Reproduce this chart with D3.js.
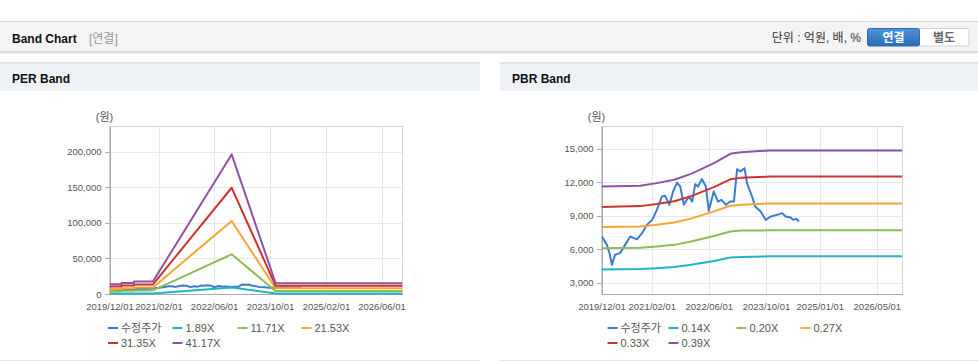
<!DOCTYPE html>
<meta charset="utf-8">
<style>
body { margin: 0; background: #fff; font-family: "Liberation Sans", Arial, "Noto Sans CJK KR", sans-serif; }
.axis text { fill: #555; font-size: 9.5px; }
.axis path, .axis line { stroke: #aaa; shape-rendering: crispEdges; }
.grid line { stroke: #e8e8e8; shape-rendering: crispEdges; }
.band { fill: none; stroke-width: 2; stroke-linejoin: round; }
.legend text { fill: #555; font-size: 11px; }
</style>
<script src="https://d3js.org/d3.v7.min.js"></script>
<body>
<div id="chart"></div>
<script>
// ---- data ----
// adjusted close (수정주가), shared by both charts
var priceDates = ["2019-12-04","2020-01-16","2020-02-07","2020-02-28","2020-03-25","2020-05-07","2020-06-19",
  "2020-08-01","2020-09-01","2020-09-28","2020-11-10","2020-12-22","2021-02-04","2021-03-16","2021-04-28",
  "2021-05-25","2021-07-01","2021-08-01","2021-09-04","2021-10-01","2021-11-01","2021-12-13","2022-01-10",
  "2022-02-06","2022-03-01","2022-04-04","2022-05-07","2022-06-01","2022-07-13","2022-08-19","2022-09-16",
  "2022-10-25","2022-12-01","2023-01-01","2023-01-28","2023-02-26","2023-04-01","2023-04-22","2023-06-04",
  "2023-07-01","2023-08-16","2023-09-28","2023-11-10","2024-01-04","2024-02-16","2024-03-16","2024-04-28",
  "2024-05-19","2024-06-16","2024-07-07"];
var priceValues = [7150,6400,5660,4610,5510,5660,6400,
  7150,7000,6900,7450,8200,8640,9540,10730,
  10790,9990,11180,11980,11620,9990,10730,10280,
  11840,11620,12290,11620,9450,11180,10280,10430,
  9990,10280,10280,13180,12970,13270,11930,10730,
  9830,9390,8640,8940,9090,9240,8940,8850,
  8640,8730,8490];

// PER band
var perDates = ["2019-12-01","2020-03-15","2020-03-15","2020-07-01","2020-07-01","2020-12-15","2022-11-01","2023-11-20","2026-12-01"];
var perLabels = ["수정주가", "1.89X", "11.71X", "21.53X", "31.35X", "41.17X"];
var per189  = [630, 630, 710, 710, 810, 810, 9000, 690, 690];
var per1171 = [3900, 3900, 4400, 4400, 5040, 5040, 55700, 4300, 4300];
var per2153 = [7170, 7170, 8100, 8100, 9260, 9260, 102500, 7900, 7900];
var per3135 = [10440, 10440, 11790, 11790, 13480, 13480, 149200, 11500, 11500];
var per4117 = [13700, 13700, 15500, 15500, 17700, 17700, 196000, 15100, 15100];
var perTicksX = ["2019-12-01","2021-02-01","2022-06-01","2023-10-01","2025-02-01","2026-06-01"];
var perTicksY = [0, 50000, 100000, 150000, 200000];

// PBR band
var pbrDates = ["2019-12-01","2020-10-25","2021-03-15","2021-08-10","2022-01-01","2022-07-15","2022-12-01","2023-03-01","2023-11-01","2026-12-01"];
var pbrLabels = ["수정주가", "0.14X", "0.20X", "0.27X", "0.33X", "0.39X"];
var pbr014 = [4200, 4230, 4310, 4420, 4610, 4960, 5260, 5310, 5380, 5380];
var pbr020 = [6100, 6150, 6250, 6400, 6700, 7200, 7600, 7680, 7700, 7700];
var pbr027 = [8000, 8050, 8200, 8400, 8750, 9400, 9900, 10000, 10100, 10100];
var pbr033 = [9800, 9870, 10060, 10310, 10760, 11570, 12270, 12400, 12520, 12520];
var pbr039 = [11620, 11700, 11930, 12230, 12760, 13720, 14550, 14700, 14850, 14850];
var pbrTicksX = ["2019-12-01","2021-02-01","2022-06-01","2023-10-01","2025-01-01","2026-05-01"];
var pbrTicksY = [3000, 6000, 9000, 12000, 15000];

var colors = ["#3a7dd0", "#22b4c6", "#8cbd50", "#f6a632", "#cf3330", "#8f52a5"];

var parse = d3.timeParse("%Y-%m-%d");
var W = 978, H = 362;

var svg = d3.select("#chart").append("svg")
    .attr("width", W)
    .attr("height", H);

var defs = svg.append("defs");
var sh = defs.append("linearGradient").attr("id", "shadow").attr("x1", 0).attr("x2", 0).attr("y1", 0).attr("y2", 1);
sh.append("stop").attr("offset", "0%").attr("stop-color", "#c8c8c8");
sh.append("stop").attr("offset", "100%").attr("stop-color", "#fff").attr("stop-opacity", 0);
var btn = defs.append("linearGradient").attr("id", "btn").attr("x1", 0).attr("x2", 0).attr("y1", 0).attr("y2", 1);
btn.append("stop").attr("offset", "0%").attr("stop-color", "#4f93d8");
btn.append("stop").attr("offset", "100%").attr("stop-color", "#2b6cb4");

// top header bar
svg.append("rect").attr("x", 0).attr("y", 21).attr("width", W).attr("height", 1.5).attr("fill", "#dcdcdc");
svg.append("rect").attr("x", 0).attr("y", 22.5).attr("width", W).attr("height", 29).attr("fill", "#f4f4f4");
svg.append("rect").attr("x", 0).attr("y", 51.5).attr("width", W).attr("height", 4).attr("fill", "url(#shadow)");
svg.append("text").attr("x", 12).attr("y", 43).style("font-size", "12px").style("font-weight", "bold")
    .attr("fill", "#111").text("Band Chart");
svg.append("text").attr("x", 89).attr("y", 43).style("font-size", "12px").attr("fill", "#999").text("[연결]");
svg.append("text").attr("x", 861).attr("y", 42).style("font-size", "12px").attr("fill", "#333")
    .attr("text-anchor", "end").text("단위 : 억원, 배, %");
svg.append("rect").attr("x", 918.5).attr("y", 28.5).attr("width", 50.5).attr("height", 17.5).attr("rx", 2)
    .attr("fill", "#fff").attr("stroke", "#cfcfcf");
svg.append("rect").attr("x", 867.5).attr("y", 28.5).attr("width", 52).attr("height", 17.5).attr("rx", 2)
    .attr("fill", "url(#btn)").attr("stroke", "#2b6cb4");
svg.append("text").attr("x", 893.5).attr("y", 41.5).attr("text-anchor", "middle").style("font-size", "12px")
    .style("font-weight", "bold").attr("fill", "#fff").text("연결");
svg.append("text").attr("x", 944).attr("y", 41.5).attr("text-anchor", "middle").style("font-size", "12px")
    .style("font-weight", "bold").attr("fill", "#666").text("별도");

function panel(px, pw, title) {
  svg.append("rect").attr("x", px).attr("y", 62).attr("width", pw).attr("height", 2).attr("fill", "#e1e5ea");
  svg.append("rect").attr("x", px).attr("y", 64).attr("width", pw).attr("height", 27).attr("fill", "#eef1f6");
  svg.append("rect").attr("x", px).attr("y", 360).attr("width", pw).attr("height", 1).attr("fill", "#e6e6e6");
  svg.append("text").attr("x", px + 12).attr("y", 83).style("font-size", "12px").style("font-weight", "bold")
      .attr("fill", "#111").text(title);
}

function bandChart(opt) {
  var x = d3.scaleTime()
      .domain([parse("2019-12-01"), parse("2026-12-01")])
      .range([opt.left, opt.right]);
  var y = d3.scaleLinear()
      .domain(opt.yDomain)
      .range([294, 126.5]);
  var g = svg.append("g");

  // grid
  var grid = g.append("g").attr("class", "grid");
  grid.selectAll(".gx").data(opt.ticksX.map(parse)).enter().append("line")
      .attr("x1", function(d) { return Math.round(x(d)) + 0.5; })
      .attr("x2", function(d) { return Math.round(x(d)) + 0.5; })
      .attr("y1", 126.5).attr("y2", 294);
  grid.selectAll(".gy").data(opt.ticksY).enter().append("line")
      .attr("x1", opt.left).attr("x2", opt.right)
      .attr("y1", function(d) { return Math.round(y(d)) + 0.5; })
      .attr("y2", function(d) { return Math.round(y(d)) + 0.5; });
  g.append("rect").attr("x", opt.left).attr("y", 126.5).attr("width", opt.right - opt.left).attr("height", 294 - 126.5)
      .attr("fill", "none").attr("stroke", "#d4d4d4").style("shape-rendering", "crispEdges");

  // axes
  g.append("g").attr("class", "axis")
      .attr("transform", "translate(0,294)")
      .call(d3.axisBottom(x).tickValues(opt.ticksX.map(parse)).tickFormat(d3.timeFormat("%Y/%m/%d")).tickSize(0).tickPadding(9));
  g.append("g").attr("class", "axis")
      .attr("transform", "translate(" + opt.left + ",0)")
      .call(d3.axisLeft(y).tickValues(opt.ticksY).tickFormat(d3.format(",")).tickSize(5).tickSizeOuter(0).tickPadding(3));
  g.append("text").attr("x", opt.left - 5).attr("y", 121).attr("text-anchor", "middle")
      .style("font-size", "11px").attr("fill", "#555").text("(원)");

  var line = d3.line()
      .x(function(d) { return x(d[0]); })
      .y(function(d) { return y(d[1]); });

  var clip = "clip" + opt.left;
  defs.append("clipPath").attr("id", clip).append("rect")
      .attr("x", opt.left).attr("y", 126).attr("width", opt.right - opt.left).attr("height", 169);

  var lines = g.append("g").attr("clip-path", "url(#" + clip + ")");
  // price first, then bands
  lines.append("path").attr("class", "band")
      .datum(d3.zip(priceDates.map(parse), priceValues))
      .attr("stroke", colors[0])
      .attr("d", line);
  opt.bands.forEach(function(vals, i) {
    lines.append("path").attr("class", "band")
        .datum(d3.zip(opt.dates.map(parse), vals))
        .attr("stroke", colors[i + 1])
        .attr("d", line);
  });

  // legend
  var leg = g.append("g").attr("class", "legend");
  opt.labels.forEach(function(lab, i) {
    var lx = opt.legendX[i % 4], ly = i < 4 ? 328 : 343;
    leg.append("rect").attr("x", lx).attr("y", ly - 1).attr("width", 10).attr("height", 2).attr("fill", colors[i]);
    leg.append("text").attr("x", lx + 13).attr("y", ly).attr("dy", "0.35em").text(lab);
  });
}

panel(0, 480, "PER Band");
panel(500, 478, "PBR Band");

bandChart({
  left: 109.5, right: 402.5, yDomain: [0, 235200],
  ticksX: perTicksX, ticksY: perTicksY,
  dates: perDates, bands: [per189, per1171, per2153, per3135, per4117],
  labels: perLabels, legendX: [108, 172.5, 237.5, 301.5]
});

bandChart({
  left: 601.5, right: 902, yDomain: [2000, 17000],
  ticksX: pbrTicksX, ticksY: pbrTicksY,
  dates: pbrDates, bands: [pbr014, pbr020, pbr027, pbr033, pbr039],
  labels: pbrLabels, legendX: [607.5, 668.5, 736.5, 800.5]
});
</script>
</body>
